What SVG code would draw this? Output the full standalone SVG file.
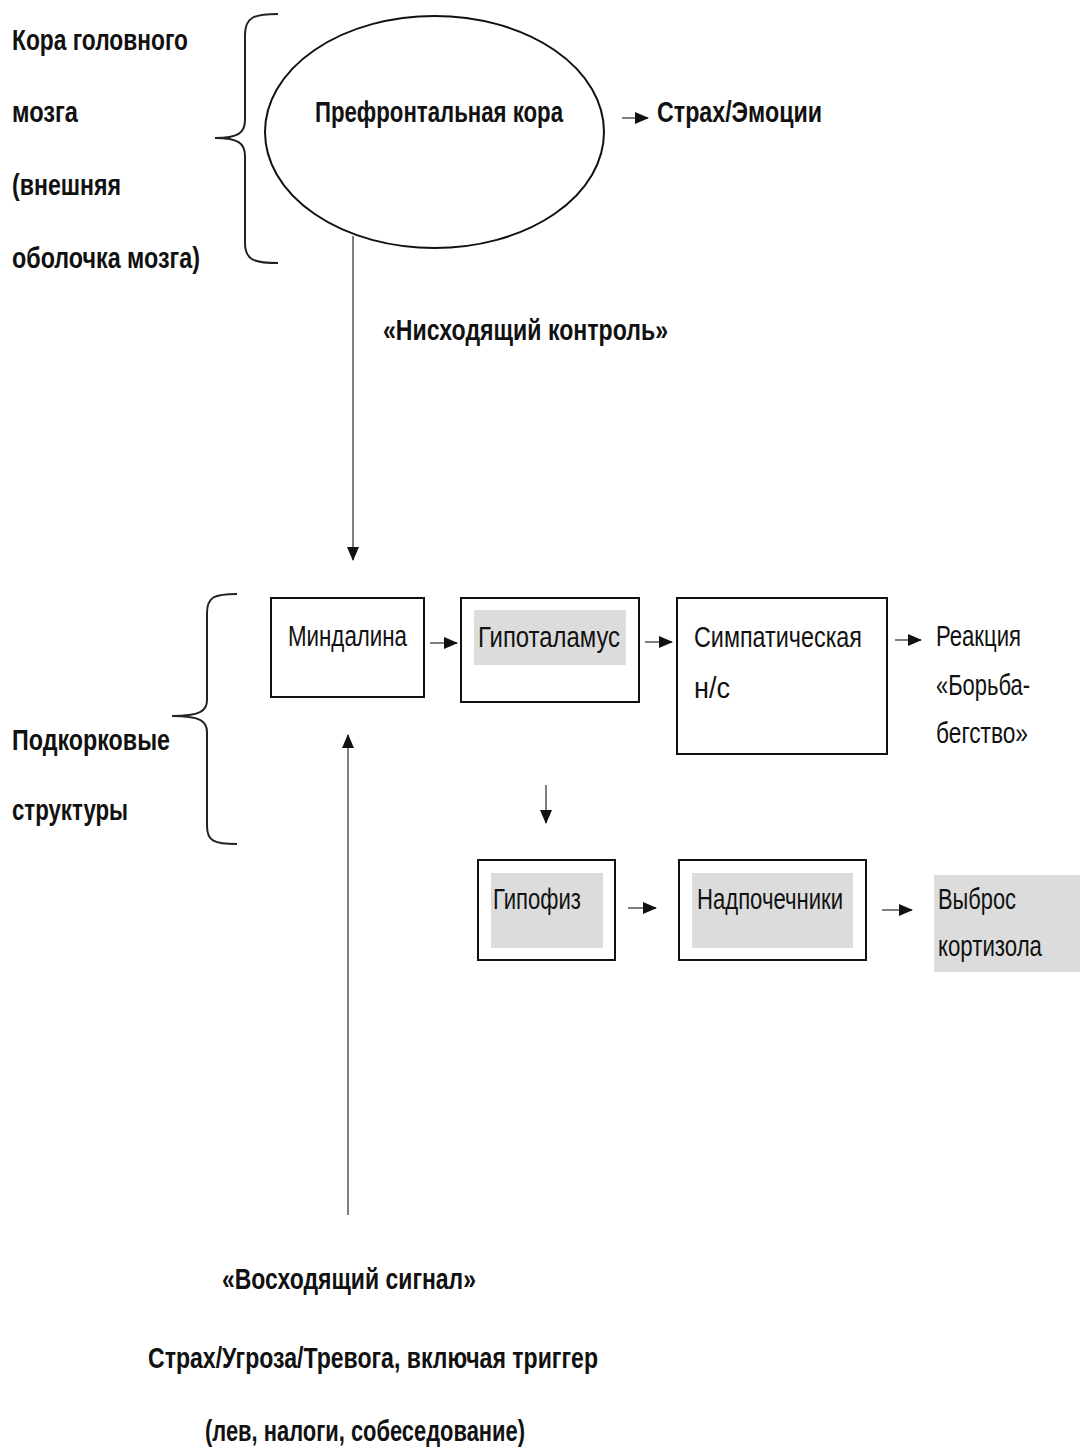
<svg xmlns="http://www.w3.org/2000/svg" width="1080" height="1451" viewBox="0 0 1080 1451">
<style>
text{font-family:"Liberation Sans Narrow","Liberation Sans",Arial,sans-serif;font-size:29px;fill:#111}
.b{font-weight:bold}
.box{fill:#fff;stroke:#111;stroke-width:2}
.hl{fill:#dcdcdc}
.ln{fill:none;stroke:#555;stroke-width:1.5}
.br{fill:none;stroke:#222;stroke-width:2}
</style>
<defs>
<marker id="ah" markerUnits="userSpaceOnUse" markerWidth="14" markerHeight="14" viewBox="0 0 14 14" refX="13" refY="7" orient="auto">
<path d="M0,1 L14,7 L0,13 Z" fill="#111"/>
</marker>
</defs>
<rect width="1080" height="1451" fill="#fff"/>

<g id="label-cortex">
<text class="b" x="12" y="50" textLength="176" lengthAdjust="spacingAndGlyphs">Кора головного</text>
<text class="b" x="12" y="122" textLength="66" lengthAdjust="spacingAndGlyphs">мозга</text>
<text class="b" x="12" y="195" textLength="109" lengthAdjust="spacingAndGlyphs">(внешняя</text>
<text class="b" x="12" y="268" textLength="188" lengthAdjust="spacingAndGlyphs">оболочка мозга)</text>
<path class="br" d="M278,14 C254,14 245,17 245,35 L245,120 C245,133 238,138 215,138 C238,138 245,143 245,156 L245,243 C245,260 254,263 278,263"/>
</g>

<g id="prefrontal">
<ellipse cx="434.5" cy="132" rx="169.5" ry="116" fill="#fff" stroke="#111" stroke-width="2"/>
<text class="b" x="315" y="122" textLength="248" lengthAdjust="spacingAndGlyphs">Префронтальная кора</text>
</g>

<g id="fear-emotions">
<text class="b" x="657" y="122" textLength="165" lengthAdjust="spacingAndGlyphs">Страх/Эмоции</text>
</g>

<g id="label-descending">
<text class="b" x="383" y="340" textLength="285" lengthAdjust="spacingAndGlyphs">«Нисходящий контроль»</text>
</g>

<g id="label-subcortical">
<text class="b" x="12" y="750" textLength="158" lengthAdjust="spacingAndGlyphs">Подкорковые</text>
<text class="b" x="12" y="820" textLength="116" lengthAdjust="spacingAndGlyphs">структуры</text>
<path class="br" d="M237,594 C214,594 207,597 207,613 L207,700 C207,711 200,716 172,716 C200,716 207,721 207,732 L207,826 C207,841 214,844 237,844"/>
</g>

<g id="amygdala">
<rect class="box" x="271" y="598" width="153" height="99"/>
<text x="288" y="646" textLength="119" lengthAdjust="spacingAndGlyphs">Миндалина</text>
</g>

<g id="hypothalamus">
<rect class="box" x="461" y="598" width="178" height="104"/>
<rect class="hl" x="474" y="610" width="152" height="55"/>
<text x="478" y="647" textLength="142" lengthAdjust="spacingAndGlyphs">Гипоталамус</text>
</g>

<g id="sympathetic">
<rect class="box" x="677" y="598" width="210" height="156"/>
<text x="694" y="647" textLength="168" lengthAdjust="spacingAndGlyphs">Симпатическая</text>
<text x="694" y="698" textLength="36" lengthAdjust="spacingAndGlyphs">н/с</text>
</g>

<g id="fight-flight">
<text x="936" y="646" textLength="85" lengthAdjust="spacingAndGlyphs">Реакция</text>
<text x="936" y="695" textLength="94" lengthAdjust="spacingAndGlyphs">«Борьба-</text>
<text x="936" y="743" textLength="92" lengthAdjust="spacingAndGlyphs">бегство»</text>
</g>

<g id="pituitary">
<rect class="box" x="478" y="860" width="137" height="100"/>
<rect class="hl" x="491" y="873" width="112" height="75"/>
<text x="493" y="909" textLength="88" lengthAdjust="spacingAndGlyphs">Гипофиз</text>
</g>

<g id="adrenals">
<rect class="box" x="679" y="860" width="187" height="100"/>
<rect class="hl" x="692" y="873" width="161" height="75"/>
<text x="697" y="909" textLength="146" lengthAdjust="spacingAndGlyphs">Надпочечники</text>
</g>

<g id="cortisol">
<rect class="hl" x="934" y="875" width="146" height="97"/>
<text x="938" y="909" textLength="78" lengthAdjust="spacingAndGlyphs">Выброс</text>
<text x="938" y="956" textLength="104" lengthAdjust="spacingAndGlyphs">кортизола</text>
</g>

<g id="label-ascending">
<text class="b" x="222" y="1289" textLength="254" lengthAdjust="spacingAndGlyphs">«Восходящий сигнал»</text>
<text class="b" x="148" y="1368" textLength="450" lengthAdjust="spacingAndGlyphs">Страх/Угроза/Тревога, включая триггер</text>
<text class="b" x="205" y="1441" textLength="320" lengthAdjust="spacingAndGlyphs">(лев, налоги, собеседование)</text>
</g>

<g id="connectors">
<line class="ln" x1="622" y1="118" x2="648" y2="118" stroke="#111" marker-end="url(#ah)"/>
<line class="ln" x1="353" y1="236" x2="353" y2="560" marker-end="url(#ah)"/>
<line class="ln" x1="430" y1="643" x2="457" y2="643" stroke="#111" marker-end="url(#ah)"/>
<line class="ln" x1="645" y1="642" x2="672" y2="642" stroke="#111" marker-end="url(#ah)"/>
<line class="ln" x1="895" y1="640" x2="921" y2="640" stroke="#111" marker-end="url(#ah)"/>
<line class="ln" x1="546" y1="785" x2="546" y2="823" stroke="#111" marker-end="url(#ah)"/>
<line class="ln" x1="628" y1="908" x2="656" y2="908" stroke="#111" marker-end="url(#ah)"/>
<line class="ln" x1="882" y1="910" x2="912" y2="910" stroke="#111" marker-end="url(#ah)"/>
<line class="ln" x1="348" y1="1215" x2="348" y2="735" marker-end="url(#ah)"/>
</g>
</svg>
